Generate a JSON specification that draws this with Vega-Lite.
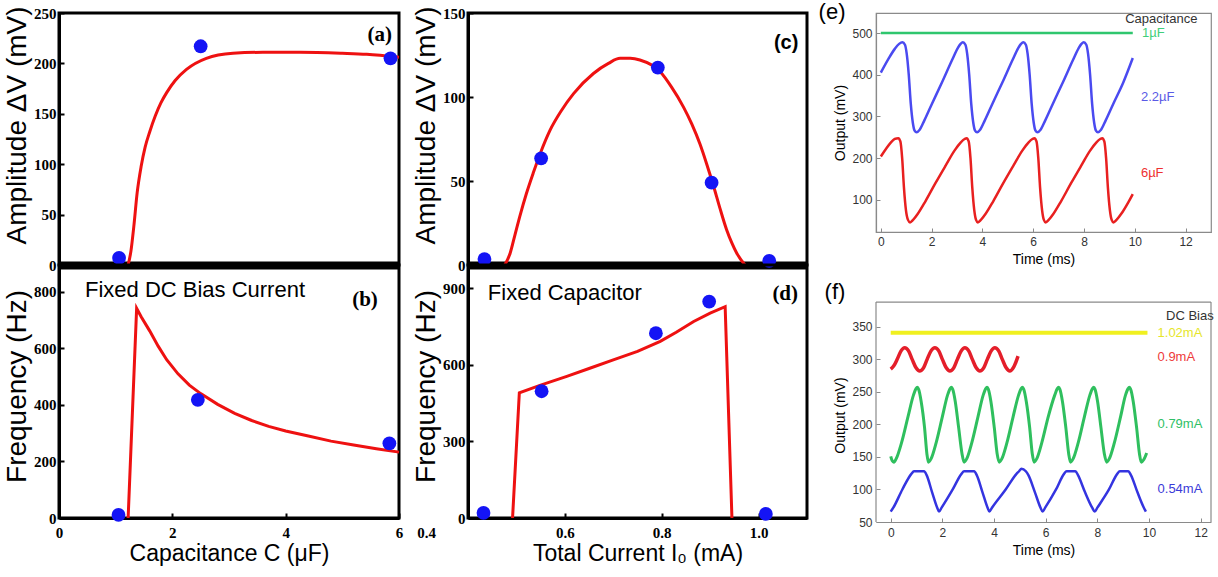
{
  "$schema": "https://vega.github.io/schema/vega-lite/v6.json",
  "background": "white",
  "padding": {"left": 1, "top": 0, "right": 0, "bottom": 0},
  "bounds": "flush",
  "columns": 3,
  "spacing": {"row": 0, "column": 69},
  "resolve": {"scale": {"x": "independent", "y": "independent", "color": "independent", "strokeWidth": "independent"}},
  "config": {
    "view": {"stroke": "black", "strokeWidth": 3},
    "axis": {"grid": false, "domainColor": "black", "domainWidth": 3, "ticks": true, "tickColor": "black", "tickWidth": 2, "tickSize": -5, "labelPadding": 8, "labelFont": "Liberation Serif", "labelFontWeight": "bold", "labelFontSize": 15, "labelColor": "black", "labelFlush": false, "titleFont": "Liberation Sans", "titleFontWeight": "normal", "titleColor": "black"}
  },
  "datasets": {
    "aCurve": [{"x":1.22,"y":0},{"x":1.27,"y":14},{"x":1.32,"y":38},{"x":1.38,"y":72},{"x":1.45,"y":98},{"x":1.52,"y":117},{"x":1.6,"y":132},{"x":1.7,"y":148},{"x":1.8,"y":161},{"x":1.9,"y":171},{"x":2.05,"y":183},{"x":2.25,"y":194},{"x":2.6,"y":205},{"x":3.07,"y":210},{"x":3.6,"y":211},{"x":4.25,"y":211},{"x":5.0,"y":210},{"x":5.43,"y":209},{"x":6.0,"y":206}],
    "aPts": [{"x":1.06,"y":7},{"x":2.5,"y":217},{"x":5.85,"y":205}],
    "bCurve": [{"x":1.22,"y":0},{"x":1.37,"y":742},{"x":1.45,"y":712},{"x":1.6,"y":662},{"x":1.75,"y":608},{"x":1.9,"y":560},{"x":2.1,"y":510},{"x":2.3,"y":470},{"x":2.5,"y":440},{"x":2.8,"y":402},{"x":3.1,"y":370},{"x":3.4,"y":345},{"x":3.7,"y":324},{"x":4.0,"y":308},{"x":4.4,"y":290},{"x":4.8,"y":272},{"x":5.2,"y":258},{"x":5.6,"y":245},{"x":6.0,"y":233}],
    "bPts": [{"x":1.05,"y":11},{"x":2.45,"y":418},{"x":5.83,"y":264}],
    "cCurve": [{"x":0.476,"y":0},{"x":0.487,"y":7},{"x":0.497,"y":18},{"x":0.507,"y":29},{"x":0.52,"y":42},{"x":0.535,"y":55},{"x":0.55,"y":67},{"x":0.569,"y":80},{"x":0.593,"y":92},{"x":0.618,"y":102},{"x":0.659,"y":114},{"x":0.69,"y":120},{"x":0.714,"y":123},{"x":0.735,"y":123},{"x":0.755,"y":122},{"x":0.797,"y":115},{"x":0.82,"y":106},{"x":0.845,"y":94},{"x":0.862,"y":84},{"x":0.879,"y":72},{"x":0.893,"y":60},{"x":0.907,"y":47},{"x":0.92,"y":34},{"x":0.934,"y":21},{"x":0.945,"y":13},{"x":0.955,"y":7},{"x":0.972,"y":0}],
    "cPts": [{"x":0.434,"y":3.5},{"x":0.551,"y":63.5},{"x":0.792,"y":117.5},{"x":0.903,"y":49},{"x":1.022,"y":2.5}],
    "dCurve": [{"x":0.492,"y":0},{"x":0.506,"y":490},{"x":0.55,"y":520},{"x":0.604,"y":554},{"x":0.65,"y":585},{"x":0.7,"y":619},{"x":0.75,"y":652},{"x":0.797,"y":691},{"x":0.83,"y":727},{"x":0.866,"y":769},{"x":0.9,"y":802},{"x":0.931,"y":827},{"x":0.945,"y":0}],
    "dPts": [{"x":0.432,"y":20},{"x":0.552,"y":496},{"x":0.788,"y":723},{"x":0.898,"y":847},{"x":1.015,"y":16}],
    "eWaves": [
      {"s":"1µF","x":0,"y":500},{"s":"1µF","x":9.92,"y":500},
      {"s":"2.2µF","x":0,"y":405},{"s":"2.2µF","x":0.3,"y":438},{"s":"2.2µF","x":0.55,"y":462},{"s":"2.2µF","x":0.72,"y":474},{"s":"2.2µF","x":0.85,"y":478},{"s":"2.2µF","x":0.95,"y":472},{"s":"2.2µF","x":1.02,"y":450},{"s":"2.2µF","x":1.1,"y":400},{"s":"2.2µF","x":1.18,"y":330},{"s":"2.2µF","x":1.26,"y":285},{"s":"2.2µF","x":1.33,"y":266},{"s":"2.2µF","x":1.41,"y":262},
      {"s":"2.2µF","x":1.53,"y":268},{"s":"2.2µF","x":1.71,"y":290},{"s":"2.2µF","x":2.01,"y":330},{"s":"2.2µF","x":2.41,"y":382},{"s":"2.2µF","x":2.81,"y":436},{"s":"2.2µF","x":3.03,"y":464},{"s":"2.2µF","x":3.14,"y":474},{"s":"2.2µF","x":3.23,"y":478},{"s":"2.2µF","x":3.33,"y":472},{"s":"2.2µF","x":3.4,"y":450},{"s":"2.2µF","x":3.48,"y":400},{"s":"2.2µF","x":3.56,"y":330},{"s":"2.2µF","x":3.64,"y":285},{"s":"2.2µF","x":3.71,"y":266},{"s":"2.2µF","x":3.79,"y":262},
      {"s":"2.2µF","x":3.91,"y":268},{"s":"2.2µF","x":4.09,"y":290},{"s":"2.2µF","x":4.39,"y":330},{"s":"2.2µF","x":4.79,"y":382},{"s":"2.2µF","x":5.19,"y":436},{"s":"2.2µF","x":5.41,"y":464},{"s":"2.2µF","x":5.52,"y":474},{"s":"2.2µF","x":5.61,"y":478},{"s":"2.2µF","x":5.71,"y":472},{"s":"2.2µF","x":5.78,"y":450},{"s":"2.2µF","x":5.86,"y":400},{"s":"2.2µF","x":5.94,"y":330},{"s":"2.2µF","x":6.02,"y":285},{"s":"2.2µF","x":6.09,"y":266},{"s":"2.2µF","x":6.17,"y":262},
      {"s":"2.2µF","x":6.29,"y":268},{"s":"2.2µF","x":6.47,"y":290},{"s":"2.2µF","x":6.77,"y":330},{"s":"2.2µF","x":7.17,"y":382},{"s":"2.2µF","x":7.57,"y":436},{"s":"2.2µF","x":7.79,"y":464},{"s":"2.2µF","x":7.9,"y":474},{"s":"2.2µF","x":7.99,"y":478},{"s":"2.2µF","x":8.09,"y":472},{"s":"2.2µF","x":8.16,"y":450},{"s":"2.2µF","x":8.24,"y":400},{"s":"2.2µF","x":8.32,"y":330},{"s":"2.2µF","x":8.4,"y":285},{"s":"2.2µF","x":8.47,"y":266},{"s":"2.2µF","x":8.55,"y":262},
      {"s":"2.2µF","x":8.67,"y":268},{"s":"2.2µF","x":8.85,"y":290},{"s":"2.2µF","x":9.15,"y":330},{"s":"2.2µF","x":9.55,"y":382},{"s":"2.2µF","x":9.92,"y":440},
      {"s":"6µF","x":0,"y":204},{"s":"6µF","x":0.2,"y":222},{"s":"6µF","x":0.4,"y":238},{"s":"6µF","x":0.55,"y":246},{"s":"6µF","x":0.69,"y":248},{"s":"6µF","x":0.77,"y":240},{"s":"6µF","x":0.84,"y":200},{"s":"6µF","x":0.91,"y":130},{"s":"6µF","x":0.99,"y":75},{"s":"6µF","x":1.07,"y":52},{"s":"6µF","x":1.15,"y":46},
      {"s":"6µF","x":1.27,"y":52},{"s":"6µF","x":1.45,"y":66},{"s":"6µF","x":1.75,"y":96},{"s":"6µF","x":2.15,"y":140},{"s":"6µF","x":2.55,"y":182},{"s":"6µF","x":2.9,"y":218},{"s":"6µF","x":3.15,"y":238},{"s":"6µF","x":3.3,"y":246},{"s":"6µF","x":3.38,"y":248},{"s":"6µF","x":3.46,"y":240},{"s":"6µF","x":3.53,"y":200},{"s":"6µF","x":3.6,"y":130},{"s":"6µF","x":3.68,"y":75},{"s":"6µF","x":3.75,"y":52},{"s":"6µF","x":3.82,"y":46},
      {"s":"6µF","x":3.94,"y":52},{"s":"6µF","x":4.12,"y":66},{"s":"6µF","x":4.42,"y":96},{"s":"6µF","x":4.82,"y":140},{"s":"6µF","x":5.22,"y":182},{"s":"6µF","x":5.57,"y":218},{"s":"6µF","x":5.82,"y":238},{"s":"6µF","x":5.97,"y":246},{"s":"6µF","x":6.05,"y":248},{"s":"6µF","x":6.13,"y":240},{"s":"6µF","x":6.2,"y":200},{"s":"6µF","x":6.27,"y":130},{"s":"6µF","x":6.35,"y":75},{"s":"6µF","x":6.42,"y":52},{"s":"6µF","x":6.49,"y":46},
      {"s":"6µF","x":6.61,"y":52},{"s":"6µF","x":6.79,"y":66},{"s":"6µF","x":7.09,"y":96},{"s":"6µF","x":7.49,"y":140},{"s":"6µF","x":7.89,"y":182},{"s":"6µF","x":8.24,"y":218},{"s":"6µF","x":8.49,"y":238},{"s":"6µF","x":8.64,"y":246},{"s":"6µF","x":8.72,"y":248},{"s":"6µF","x":8.8,"y":240},{"s":"6µF","x":8.87,"y":200},{"s":"6µF","x":8.94,"y":130},{"s":"6µF","x":9.02,"y":75},{"s":"6µF","x":9.09,"y":52},{"s":"6µF","x":9.16,"y":46},
      {"s":"6µF","x":9.28,"y":52},{"s":"6µF","x":9.46,"y":66},{"s":"6µF","x":9.76,"y":96},{"s":"6µF","x":9.92,"y":114}
    ],
    "eText": [
      {"x":9.62,"y":533,"t":"Capacitance","c":"#333333"},
      {"x":10.28,"y":500,"t":"1µF","c":"#3fcf7a"},
      {"x":10.24,"y":347,"t":"2.2µF","c":"#5a5ae6"},
      {"x":10.24,"y":164,"t":"6µF","c":"#ee3030"}
    ],
    "fWaves": [
      {"s":"1.02mA","x":0,"y":341},{"s":"1.02mA","x":9.94,"y":341},
      {"s":"0.9mA","x":0,"y":285},{"s":"0.9mA","x":0.12,"y":290},{"s":"0.9mA","x":0.25,"y":300},{"s":"0.9mA","x":0.4,"y":313},{"s":"0.9mA","x":0.54,"y":318},{"s":"0.9mA","x":0.69,"y":313},{"s":"0.9mA","x":0.83,"y":300},{"s":"0.9mA","x":0.98,"y":287},{"s":"0.9mA","x":1.12,"y":282},{"s":"0.9mA","x":1.27,"y":287},{"s":"0.9mA","x":1.41,"y":300},{"s":"0.9mA","x":1.56,"y":313},{"s":"0.9mA","x":1.71,"y":318},{"s":"0.9mA","x":1.86,"y":313},{"s":"0.9mA","x":2.0,"y":300},{"s":"0.9mA","x":2.15,"y":287},{"s":"0.9mA","x":2.29,"y":282},{"s":"0.9mA","x":2.44,"y":287},{"s":"0.9mA","x":2.58,"y":300},{"s":"0.9mA","x":2.73,"y":313},{"s":"0.9mA","x":2.87,"y":318},{"s":"0.9mA","x":3.02,"y":313},{"s":"0.9mA","x":3.16,"y":300},{"s":"0.9mA","x":3.31,"y":287},{"s":"0.9mA","x":3.45,"y":282},{"s":"0.9mA","x":3.6,"y":287},{"s":"0.9mA","x":3.74,"y":300},{"s":"0.9mA","x":3.89,"y":313},{"s":"0.9mA","x":4.03,"y":318},{"s":"0.9mA","x":4.18,"y":313},{"s":"0.9mA","x":4.32,"y":300},{"s":"0.9mA","x":4.47,"y":287},{"s":"0.9mA","x":4.61,"y":282},{"s":"0.9mA","x":4.76,"y":288},{"s":"0.9mA","x":4.93,"y":305},
      {"s":"0.79mA","x":0,"y":151},{"s":"0.79mA","x":0.06,"y":144},{"s":"0.79mA","x":0.12,"y":142},{"s":"0.79mA","x":0.22,"y":148},{"s":"0.79mA","x":0.42,"y":172},{"s":"0.79mA","x":0.67,"y":212},{"s":"0.79mA","x":0.88,"y":245},{"s":"0.79mA","x":0.98,"y":255},{"s":"0.79mA","x":1.03,"y":257},{"s":"0.79mA","x":1.08,"y":254},{"s":"0.79mA","x":1.18,"y":235},{"s":"0.79mA","x":1.31,"y":195},{"s":"0.79mA","x":1.4,"y":155},{"s":"0.79mA","x":1.46,"y":142},
      {"s":"0.79mA","x":1.56,"y":147},{"s":"0.79mA","x":1.76,"y":172},{"s":"0.79mA","x":2.0,"y":212},{"s":"0.79mA","x":2.2,"y":245},{"s":"0.79mA","x":2.3,"y":255},{"s":"0.79mA","x":2.35,"y":257},{"s":"0.79mA","x":2.4,"y":254},{"s":"0.79mA","x":2.5,"y":235},{"s":"0.79mA","x":2.63,"y":195},{"s":"0.79mA","x":2.76,"y":155},{"s":"0.79mA","x":2.84,"y":142},
      {"s":"0.79mA","x":2.94,"y":147},{"s":"0.79mA","x":3.14,"y":172},{"s":"0.79mA","x":3.38,"y":212},{"s":"0.79mA","x":3.58,"y":245},{"s":"0.79mA","x":3.68,"y":255},{"s":"0.79mA","x":3.73,"y":257},{"s":"0.79mA","x":3.78,"y":254},{"s":"0.79mA","x":3.88,"y":235},{"s":"0.79mA","x":4.01,"y":195},{"s":"0.79mA","x":4.12,"y":155},{"s":"0.79mA","x":4.2,"y":142},
      {"s":"0.79mA","x":4.3,"y":147},{"s":"0.79mA","x":4.5,"y":172},{"s":"0.79mA","x":4.74,"y":212},{"s":"0.79mA","x":4.95,"y":245},{"s":"0.79mA","x":5.05,"y":255},{"s":"0.79mA","x":5.1,"y":257},{"s":"0.79mA","x":5.15,"y":254},{"s":"0.79mA","x":5.25,"y":235},{"s":"0.79mA","x":5.38,"y":195},{"s":"0.79mA","x":5.48,"y":155},{"s":"0.79mA","x":5.55,"y":142},
      {"s":"0.79mA","x":5.65,"y":147},{"s":"0.79mA","x":5.85,"y":172},{"s":"0.79mA","x":6.1,"y":212},{"s":"0.79mA","x":6.35,"y":245},{"s":"0.79mA","x":6.45,"y":255},{"s":"0.79mA","x":6.5,"y":257},{"s":"0.79mA","x":6.55,"y":254},{"s":"0.79mA","x":6.65,"y":235},{"s":"0.79mA","x":6.78,"y":195},{"s":"0.79mA","x":6.89,"y":155},{"s":"0.79mA","x":6.96,"y":142},
      {"s":"0.79mA","x":7.06,"y":147},{"s":"0.79mA","x":7.26,"y":172},{"s":"0.79mA","x":7.5,"y":212},{"s":"0.79mA","x":7.71,"y":245},{"s":"0.79mA","x":7.81,"y":255},{"s":"0.79mA","x":7.86,"y":257},{"s":"0.79mA","x":7.91,"y":254},{"s":"0.79mA","x":8.01,"y":235},{"s":"0.79mA","x":8.14,"y":195},{"s":"0.79mA","x":8.27,"y":155},{"s":"0.79mA","x":8.36,"y":142},
      {"s":"0.79mA","x":8.46,"y":147},{"s":"0.79mA","x":8.66,"y":172},{"s":"0.79mA","x":8.9,"y":212},{"s":"0.79mA","x":9.09,"y":245},{"s":"0.79mA","x":9.19,"y":255},{"s":"0.79mA","x":9.24,"y":257},{"s":"0.79mA","x":9.29,"y":254},{"s":"0.79mA","x":9.39,"y":235},{"s":"0.79mA","x":9.52,"y":195},{"s":"0.79mA","x":9.63,"y":155},{"s":"0.79mA","x":9.7,"y":142},{"s":"0.79mA","x":9.8,"y":146},{"s":"0.79mA","x":9.91,"y":156},
      {"s":"0.54mA","x":0,"y":66},{"s":"0.54mA","x":0.1,"y":72},{"s":"0.54mA","x":0.45,"y":100},{"s":"0.54mA","x":0.8,"y":124},{"s":"0.54mA","x":0.9,"y":128},{"s":"0.54mA","x":1.29,"y":128},{"s":"0.54mA","x":1.39,"y":122},{"s":"0.54mA","x":1.6,"y":96},{"s":"0.54mA","x":1.8,"y":72},{"s":"0.54mA","x":1.87,"y":66},
      {"s":"0.54mA","x":1.97,"y":72},{"s":"0.54mA","x":2.4,"y":100},{"s":"0.54mA","x":2.74,"y":124},{"s":"0.54mA","x":2.84,"y":128},{"s":"0.54mA","x":3.23,"y":128},{"s":"0.54mA","x":3.33,"y":122},{"s":"0.54mA","x":3.55,"y":96},{"s":"0.54mA","x":3.75,"y":72},{"s":"0.54mA","x":3.82,"y":66},
      {"s":"0.54mA","x":3.92,"y":72},{"s":"0.54mA","x":4.45,"y":100},{"s":"0.54mA","x":4.87,"y":124},{"s":"0.54mA","x":4.97,"y":128},{"s":"0.54mA","x":5.06,"y":132},{"s":"0.54mA","x":5.23,"y":128},{"s":"0.54mA","x":5.33,"y":122},{"s":"0.54mA","x":5.58,"y":96},{"s":"0.54mA","x":5.8,"y":72},{"s":"0.54mA","x":5.88,"y":66},
      {"s":"0.54mA","x":5.98,"y":72},{"s":"0.54mA","x":6.4,"y":100},{"s":"0.54mA","x":6.71,"y":124},{"s":"0.54mA","x":6.81,"y":128},{"s":"0.54mA","x":7.15,"y":128},{"s":"0.54mA","x":7.25,"y":122},{"s":"0.54mA","x":7.52,"y":96},{"s":"0.54mA","x":7.8,"y":72},{"s":"0.54mA","x":7.9,"y":66},
      {"s":"0.54mA","x":8.0,"y":72},{"s":"0.54mA","x":8.45,"y":100},{"s":"0.54mA","x":8.77,"y":124},{"s":"0.54mA","x":8.87,"y":128},{"s":"0.54mA","x":9.2,"y":128},{"s":"0.54mA","x":9.3,"y":122},{"s":"0.54mA","x":9.55,"y":96},{"s":"0.54mA","x":9.8,"y":72},{"s":"0.54mA","x":9.88,"y":66}
    ],
    "fText": [
      {"x":10.66,"y":366,"t":"DC Bias","c":"#333333"},
      {"x":10.33,"y":340,"t":"1.02mA","c":"#e6e62a"},
      {"x":10.33,"y":304,"t":"0.9mA","c":"#ee3a3a"},
      {"x":10.33,"y":201,"t":"0.79mA","c":"#2fbf66"},
      {"x":10.33,"y":100,"t":"0.54mA","c":"#3a3ad8"}
    ],
    "fFrame": [
      {"x":-0.57,"x2":-0.57,"y":50,"y2":388},
      {"x":12.4,"x2":12.4,"y":50,"y2":388},
      {"x":-0.57,"x2":12.4,"y":388,"y2":388}
    ]
  },
  "concat": [
    {
      "width": 340, "height": 252,
      "layer": [
        {"data": {"name": "aCurve"}, "mark": {"type": "line", "color": "#ee1111", "strokeWidth": 3, "interpolate": "monotone"},
         "encoding": {
           "x": {"field": "x", "type": "quantitative", "scale": {"domain": [0, 6], "nice": false, "zero": false}, "axis": {"labels": false, "ticks": false, "title": null, "domainWidth": 8}},
           "y": {"field": "y", "type": "quantitative", "scale": {"domain": [0, 250], "nice": false}, "axis": {"values": [0, 50, 100, 150, 200, 250], "format": "d", "title": "Amplitude ΔV (mV)", "titleFontSize": 28, "titlePadding": 2, "titleY": 112}}}},
        {"data": {"name": "aPts"}, "mark": {"type": "point", "filled": true, "color": "#1414f5", "opacity": 1, "size": 190},
         "encoding": {"x": {"field": "x", "type": "quantitative"}, "y": {"field": "y", "type": "quantitative"}}},
        {"data": {"values": [{"x": 5.66, "y": 228, "t": "(a)"}]}, "mark": {"type": "text", "font": "Liberation Serif", "fontWeight": "bold", "fontSize": 21, "color": "black"},
         "encoding": {"x": {"field": "x", "type": "quantitative"}, "y": {"field": "y", "type": "quantitative"}, "text": {"field": "t"}}}
      ]
    },
    {
      "width": 339, "height": 252,
      "layer": [
        {"data": {"name": "cCurve"}, "mark": {"type": "line", "color": "#ee1111", "strokeWidth": 3, "interpolate": "monotone"},
         "encoding": {
           "x": {"field": "x", "type": "quantitative", "scale": {"domain": [0.4, 1.1], "nice": false, "zero": false}, "axis": {"labels": false, "ticks": false, "title": null, "domainWidth": 8}},
           "y": {"field": "y", "type": "quantitative", "scale": {"domain": [0, 150], "nice": false}, "axis": {"values": [0, 50, 100, 150], "format": "d", "title": "Amplitude ΔV (mV)", "titleFontSize": 28, "titlePadding": 2, "titleY": 112}}}},
        {"data": {"name": "cPts"}, "mark": {"type": "point", "filled": true, "color": "#1414f5", "opacity": 1, "size": 190},
         "encoding": {"x": {"field": "x", "type": "quantitative"}, "y": {"field": "y", "type": "quantitative"}}},
        {"data": {"values": [{"x": 1.057, "y": 132, "t": "(c)"}]}, "mark": {"type": "text", "font": "Liberation Sans", "fontWeight": "bold", "fontSize": 20, "color": "black"},
         "encoding": {"x": {"field": "x", "type": "quantitative"}, "y": {"field": "y", "type": "quantitative"}, "text": {"field": "t"}}}
      ]
    },
    {
      "width": 335, "height": 219,
      "view": {"stroke": "#8a8a8a", "strokeWidth": 1.2},
      "layer": [
        {"data": {"name": "eWaves"}, "mark": {"type": "line", "strokeWidth": 2.5, "interpolate": "monotone"},
         "encoding": {
           "x": {"field": "x", "type": "quantitative", "scale": {"domain": [-0.19, 13.0], "nice": false, "zero": false},
                 "axis": {"values": [0, 2, 4, 6, 8, 10, 12], "format": "d", "title": "Time (ms)", "titleFontSize": 14, "titlePadding": 5, "domainColor": "#8a8a8a", "domainWidth": 1.2, "tickColor": "#8a8a8a", "tickWidth": 1, "tickSize": -4, "labelPadding": 8, "labelFont": "Liberation Sans", "labelFontWeight": "normal", "labelFontSize": 12, "labelColor": "#333333"}},
           "y": {"field": "y", "type": "quantitative", "scale": {"domain": [23, 548], "nice": false, "zero": false},
                 "axis": {"values": [100, 200, 300, 400, 500], "format": "d", "title": "Output (mV)", "titleFontSize": 14, "titlePadding": 4, "domainColor": "#8a8a8a", "domainWidth": 1.2, "tickColor": "#8a8a8a", "tickWidth": 1, "tickSize": -4, "labelPadding": 8, "labelFont": "Liberation Sans", "labelFontWeight": "normal", "labelFontSize": 12, "labelColor": "#333333"}},
           "color": {"field": "s", "type": "nominal", "scale": {"domain": ["1µF", "2.2µF", "6µF"], "range": ["#2fc66e", "#4a4af0", "#e82020"]}, "legend": null}}},
        {"data": {"name": "eText"}, "mark": {"type": "text", "align": "left", "font": "Liberation Sans", "fontSize": 13},
         "encoding": {"x": {"field": "x", "type": "quantitative"}, "y": {"field": "y", "type": "quantitative"}, "text": {"field": "t"}, "color": {"field": "c", "type": "nominal", "scale": null}}},
        {"data": {"values": [{"x": -1.92, "y": 551, "t": "(e)"}]}, "mark": {"type": "text", "font": "Liberation Sans", "fontSize": 22, "color": "black"},
         "encoding": {"x": {"field": "x", "type": "quantitative"}, "y": {"field": "y", "type": "quantitative"}, "text": {"field": "t"}}}
      ]
    },
    {
      "width": 340, "height": 253,
      "layer": [
        {"data": {"name": "bCurve"}, "mark": {"type": "line", "color": "#ee1111", "strokeWidth": 3},
         "encoding": {
           "x": {"field": "x", "type": "quantitative", "scale": {"domain": [0, 6], "nice": false, "zero": false}, "axis": {"values": [0, 2, 4, 6], "format": "d", "labelPadding": 12, "title": "Capacitance C (μF)", "titleFontSize": 23, "titlePadding": 2}},
           "y": {"field": "y", "type": "quantitative", "scale": {"domain": [0, 895], "nice": false}, "axis": {"values": [0, 200, 400, 600, 800], "format": "d", "title": "Frequency (Hz)", "titleFontSize": 28, "titlePadding": 2, "titleY": 121}}}},
        {"data": {"name": "bPts"}, "mark": {"type": "point", "filled": true, "color": "#1414f5", "opacity": 1, "size": 190},
         "encoding": {"x": {"field": "x", "type": "quantitative"}, "y": {"field": "y", "type": "quantitative"}}},
        {"data": {"values": [{"x": 5.4, "y": 772, "t": "(b)"}]}, "mark": {"type": "text", "font": "Liberation Serif", "fontWeight": "bold", "fontSize": 21, "color": "black"},
         "encoding": {"x": {"field": "x", "type": "quantitative"}, "y": {"field": "y", "type": "quantitative"}, "text": {"field": "t"}}},
        {"data": {"values": [{"x": 2.4, "y": 807, "t": "Fixed DC Bias Current"}]}, "mark": {"type": "text", "font": "Liberation Sans", "fontSize": 22, "color": "black"},
         "encoding": {"x": {"field": "x", "type": "quantitative"}, "y": {"field": "y", "type": "quantitative"}, "text": {"field": "t"}}}
      ]
    },
    {
      "width": 339, "height": 253,
      "layer": [
        {"data": {"name": "dCurve"}, "mark": {"type": "line", "color": "#ee1111", "strokeWidth": 3},
         "encoding": {
           "x": {"field": "x", "type": "quantitative", "scale": {"domain": [0.4, 1.1], "nice": false, "zero": false}, "axis": {"values": [0.4, 0.6, 0.8, 1.0], "format": ".1f", "labelPadding": 12, "labelOffset": {"condition": {"test": "datum.value < 0.5", "value": -42}, "value": 0}, "title": "Total Current I₀ (mA)", "titleFontSize": 23, "titlePadding": 2}},
           "y": {"field": "y", "type": "quantitative", "scale": {"domain": [0, 990], "nice": false}, "axis": {"values": [0, 300, 600, 900], "format": "d", "title": "Frequency (Hz)", "titleFontSize": 28, "titlePadding": 2, "titleY": 121}}}},
        {"data": {"name": "dPts"}, "mark": {"type": "point", "filled": true, "color": "#1414f5", "opacity": 1, "size": 190},
         "encoding": {"x": {"field": "x", "type": "quantitative"}, "y": {"field": "y", "type": "quantitative"}}},
        {"data": {"values": [{"x": 1.055, "y": 876, "t": "(d)"}]}, "mark": {"type": "text", "font": "Liberation Serif", "fontWeight": "bold", "fontSize": 21, "color": "black"},
         "encoding": {"x": {"field": "x", "type": "quantitative"}, "y": {"field": "y", "type": "quantitative"}, "text": {"field": "t"}}},
        {"data": {"values": [{"x": 0.6, "y": 880, "t": "Fixed Capacitor"}]}, "mark": {"type": "text", "font": "Liberation Sans", "fontSize": 22, "color": "black"},
         "encoding": {"x": {"field": "x", "type": "quantitative"}, "y": {"field": "y", "type": "quantitative"}, "text": {"field": "t"}}}
      ]
    },
    {
      "width": 335, "height": 257,
      "view": {"stroke": null},
      "layer": [
        {"data": {"name": "fWaves"}, "mark": {"type": "line", "interpolate": "monotone"},
         "encoding": {
           "x": {"field": "x", "type": "quantitative", "scale": {"domain": [-0.57, 12.4], "nice": false, "zero": false},
                 "axis": {"values": [0, 2, 4, 6, 8, 10, 12], "format": "d", "title": "Time (ms)", "titleFontSize": 14, "titlePadding": 5, "domainColor": "#8a8a8a", "domainWidth": 1.2, "tickColor": "#8a8a8a", "tickWidth": 1, "tickSize": -4, "labelPadding": 9, "labelFont": "Liberation Sans", "labelFontWeight": "normal", "labelFontSize": 12, "labelColor": "#333333"}},
           "y": {"field": "y", "type": "quantitative", "scale": {"domain": [50, 445], "nice": false, "zero": false},
                 "axis": {"values": [50, 100, 150, 200, 250, 300, 350], "format": "d", "title": "Output (mV)", "titleFontSize": 14, "titlePadding": 4, "titleY": 150, "domain": false, "tickColor": "#8a8a8a", "tickWidth": 1, "tickSize": -4, "labelPadding": 8, "labelFont": "Liberation Sans", "labelFontWeight": "normal", "labelFontSize": 12, "labelColor": "#333333"}},
           "color": {"field": "s", "type": "nominal", "scale": {"domain": ["1.02mA", "0.9mA", "0.79mA", "0.54mA"], "range": ["#f0f020", "#e41e2a", "#2fbf5e", "#3434e0"]}, "legend": null},
           "strokeWidth": {"field": "s", "type": "nominal", "scale": {"domain": ["1.02mA", "0.9mA", "0.79mA", "0.54mA"], "range": [4, 2.5, 2.5, 2.5]}, "legend": null}}},
        {"data": {"name": "fFrame"}, "mark": {"type": "rule", "color": "#8a8a8a", "strokeWidth": 1.2},
         "encoding": {"x": {"field": "x", "type": "quantitative"}, "x2": {"field": "x2"}, "y": {"field": "y", "type": "quantitative"}, "y2": {"field": "y2"}}},
        {"data": {"name": "fText"}, "mark": {"type": "text", "align": "left", "font": "Liberation Sans", "fontSize": 13},
         "encoding": {"x": {"field": "x", "type": "quantitative"}, "y": {"field": "y", "type": "quantitative"}, "text": {"field": "t"}, "color": {"field": "c", "type": "nominal", "scale": null}}},
        {"data": {"values": [{"x": -2.16, "y": 404, "t": "(f)"}]}, "mark": {"type": "text", "font": "Liberation Sans", "fontSize": 22, "color": "black"},
         "encoding": {"x": {"field": "x", "type": "quantitative"}, "y": {"field": "y", "type": "quantitative"}, "text": {"field": "t"}}}
      ]
    }
  ]
}
